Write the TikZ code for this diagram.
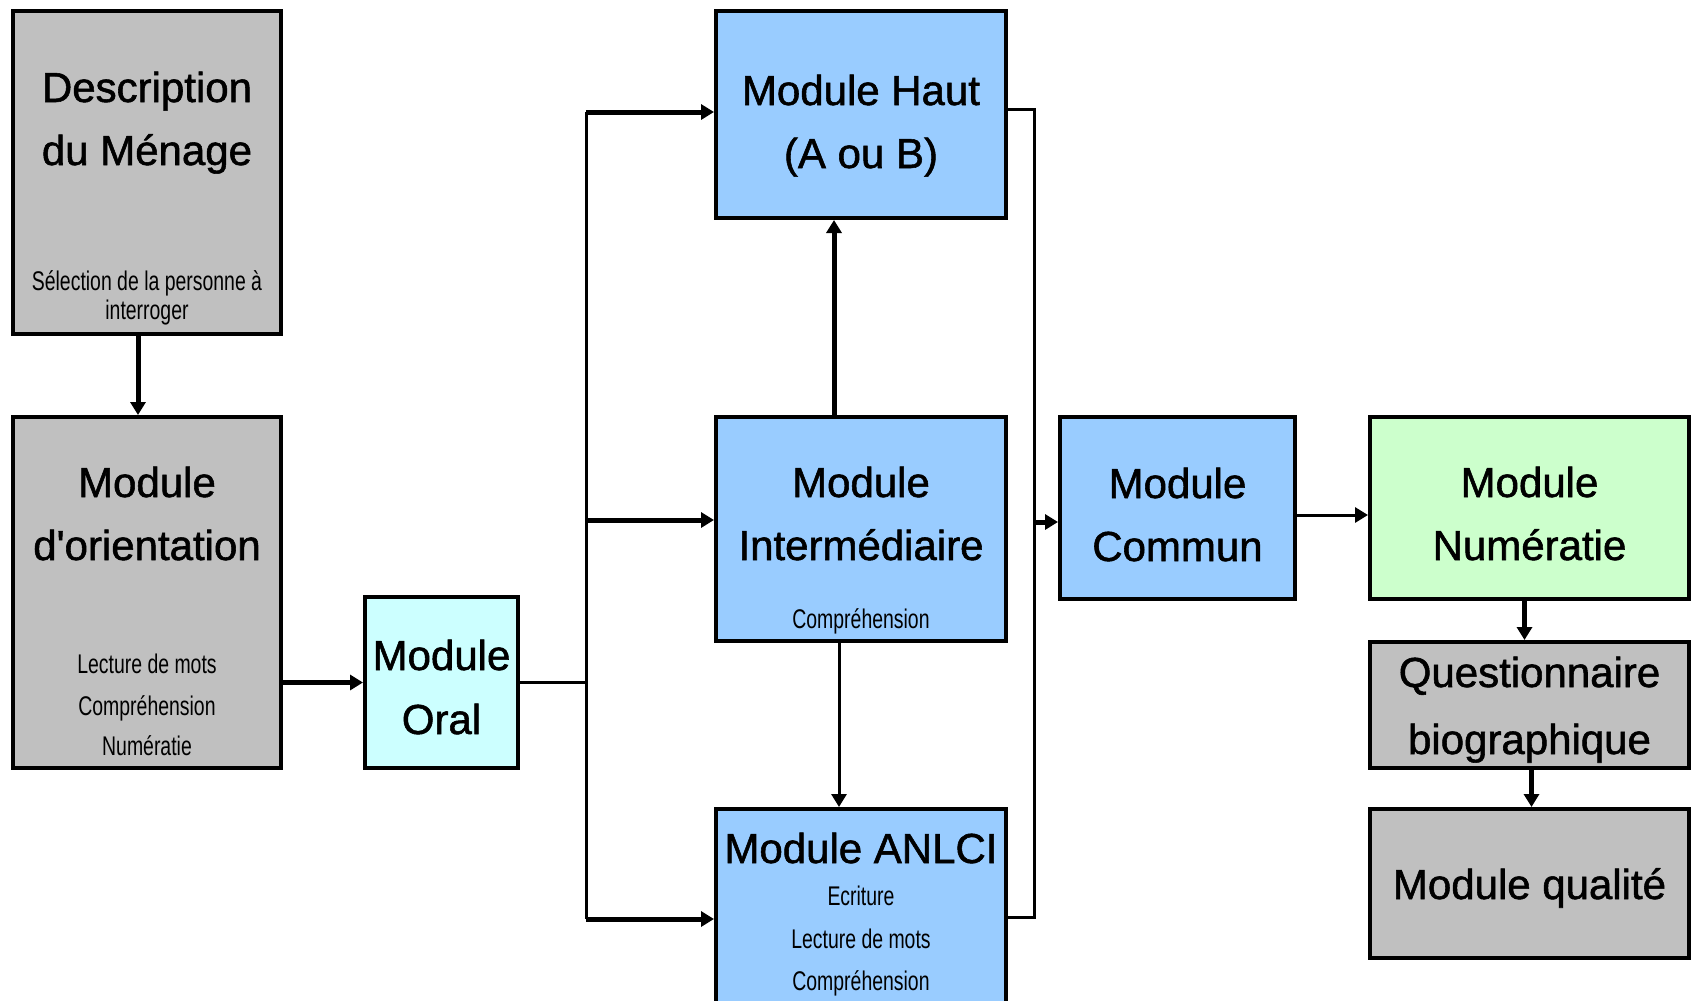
\documentclass[tikz,border=0pt]{standalone}
\usepackage{fontspec}
\setmainfont{Liberation Sans}
\newfontfamily\petite[FakeStretch=0.72]{Liberation Sans}
\newfontfamily\grosse[FakeBold=1.3]{Liberation Sans}
\usetikzlibrary{arrows.meta}
\definecolor{gris}{HTML}{C0C0C0}
\definecolor{bleu}{HTML}{99CCFF}
\definecolor{cyanclair}{HTML}{CCFFFF}
\definecolor{vertclair}{HTML}{CCFFCC}

\begin{document}
\begin{tikzpicture}[x=1pt,y=-1pt,
  boite/.style={draw,line width=4pt,rectangle,inner sep=0pt},
  titre/.style={anchor=base,inner sep=0pt,font=\grosse\fontsize{42}{50}\selectfont},
  petit/.style={anchor=base,inner sep=0pt,font=\petite\fontsize{27}{30}\selectfont},
  fleche/.style={line width=5pt,-{Triangle[length=13pt,width=15pt]}},
  flechefine/.style={line width=3pt,-{Triangle[length=13pt,width=15pt]}},
  fin/.style={line width=3pt}]
\clip (0,0) rectangle (1692,1001);
\fill [white] (0,0) rectangle (1692,1001);
% boites
\node [boite,fill=gris,minimum width=268,minimum height=323] (desc) at (147,172.5) {};
\node [boite,fill=gris,minimum width=268,minimum height=351] (orient) at (147,592.5) {};
\node [boite,fill=cyanclair,minimum width=153,minimum height=171] (oral) at (441.5,682.5) {};
\node [boite,fill=bleu,minimum width=290,minimum height=207] (haut) at (861,114.5) {};
\node [boite,fill=bleu,minimum width=290,minimum height=224] (inter) at (861,529) {};
\node [boite,fill=bleu,minimum width=290,minimum height=221] (anlci) at (861,919.5) {};
\node [boite,fill=bleu,minimum width=235,minimum height=182] (commun) at (1177.5,508) {};
\node [boite,fill=vertclair,minimum width=319,minimum height=182] (num) at (1529.5,508) {};
\node [boite,fill=gris,minimum width=319,minimum height=126] (quest) at (1529.5,705) {};
\node [boite,fill=gris,minimum width=319,minimum height=149] (qual) at (1529.5,883.5) {};
% textes
\node [titre] (desc-1) at (147,102) {Description};
\node [titre] (desc-2) at (147,165) {du Ménage};
\node [petit] (desc-3) at (147,290) {Sélection de la personne à};
\node [petit] (desc-4) at (147,319) {interroger};
\node [titre] (orient-1) at (147,497) {Module};
\node [titre] (orient-2) at (147,560) {d\textquotesingle orientation};
\node [petit] (orient-3) at (147,673) {Lecture de mots};
\node [petit] (orient-4) at (147,715) {Compréhension};
\node [petit] (orient-5) at (147,755) {Numératie};
\node [titre] (oral-1) at (441.5,670) {Module};
\node [titre] (oral-2) at (441.5,734) {Oral};
\node [titre] (haut-1) at (861,105) {Module Haut};
\node [titre] (haut-2) at (861,168) {(A ou B)};
\node [titre] (inter-1) at (861,497) {Module};
\node [titre] (inter-2) at (861,560) {Intermédiaire};
\node [petit] (inter-3) at (861,628) {Compréhension};
\node [titre] (anlci-1) at (861,863) {Module ANLCI};
\node [petit] (anlci-2) at (861,905) {Ecriture};
\node [petit] (anlci-3) at (861,948) {Lecture de mots};
\node [petit] (anlci-4) at (861,990) {Compréhension};
\node [titre] (commun-1) at (1177.5,498) {Module};
\node [titre] (commun-2) at (1177.5,561) {Commun};
\node [titre] (num-1) at (1529.5,497) {Module};
\node [titre] (num-2) at (1529.5,560) {Numératie};
\node [titre] (quest-1) at (1529.5,687) {Questionnaire};
\node [titre] (quest-2) at (1529.5,754) {biographique};
\node [titre] (qual-1) at (1529.5,899) {Module qualité};
% points de jonction
\coordinate (fourche) at (586,682);
\coordinate (bh) at (586,112);
\coordinate (bi) at (586,520);
\coordinate (ba) at (586,919);
\coordinate (rh) at (1034,109);
\coordinate (rc) at (1034,522);
\coordinate (ra) at (1034,917);
% liaisons
\draw [fleche] ([xshift=-9pt]desc.south) -- ([xshift=-9pt]orient.north);
\draw [fleche] (orient.east |- oral) -- (oral.west);
\draw [fin] (oral.east |- fourche) -- (fourche);
\draw [fin] (bh) -- (ba);
\draw [fleche] (bh) -- (bh -| haut.west);
\draw [fleche] (bi) -- (bi -| inter.west);
\draw [fleche] (ba) -- (ba -| anlci.west);
\draw [fleche] ([xshift=-27pt]inter.north) -- ([xshift=-27pt]haut.south);
\draw [flechefine] ([xshift=-22pt]inter.south) -- ([xshift=-22pt]anlci.north);
\draw [fin] (rh -| haut.east) -- (rh) -- (ra) -- (ra -| anlci.east);
\draw [fleche] (rc) -- (rc -| commun.west);
\draw [flechefine] ([yshift=-7pt]commun.east) -- ([yshift=-7pt]num.west);
\draw [fleche] ([xshift=-5pt]num.south) -- ([xshift=-5pt]quest.north);
\draw [fleche] ([xshift=2pt]quest.south) -- ([xshift=2pt]qual.north);
\end{tikzpicture}
\end{document}
